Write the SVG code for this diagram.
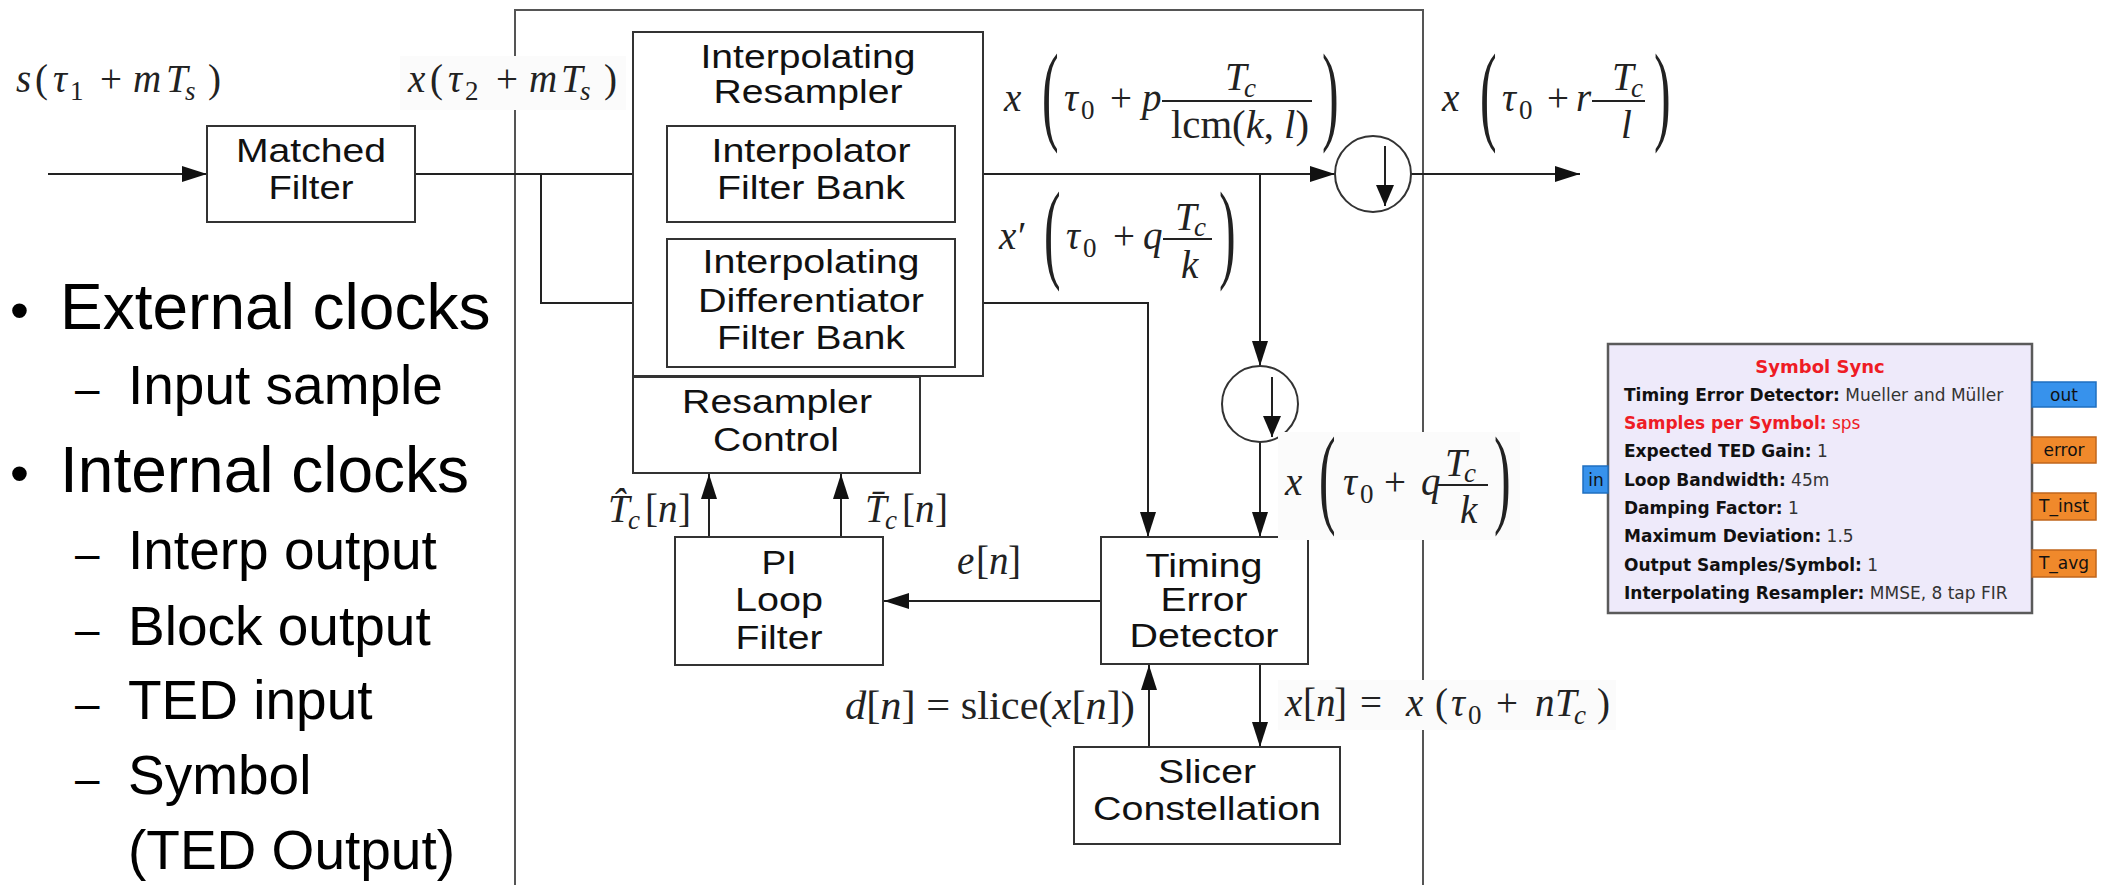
<svg xmlns="http://www.w3.org/2000/svg" width="2107" height="885" viewBox="0 0 2107 885">
<defs>
<marker id="ah" markerUnits="userSpaceOnUse" markerWidth="26" markerHeight="18" refX="25" refY="8" orient="auto"><path d="M0,0 L25,8 L0,16 z" fill="#111"/></marker>
<marker id="as" markerUnits="userSpaceOnUse" markerWidth="22" markerHeight="18" refX="21" refY="9" orient="auto"><path d="M0,0 L21,9 L0,18 z" fill="#111"/></marker>
</defs>
<style>
.box{fill:#fff;stroke:#333;stroke-width:2}
.ln{fill:none;stroke:#222;stroke-width:2}
.ar{fill:none;stroke:#222;stroke-width:2;marker-end:url(#ah)}
.frame{fill:none;stroke:#555;stroke-width:2}
.lbl{font-family:"Liberation Sans",Arial,sans-serif;font-size:34px;fill:#111;text-anchor:middle}
.m{font-family:"Liberation Serif","Times New Roman",serif;font-size:39px;fill:#222}
.i{font-style:italic}
.sb{font-size:27px}
.bp{font-family:"Liberation Serif","Times New Roman",serif;font-size:111px;fill:#222}
.bg{fill:#fbfbfb}
.list{font-family:"Liberation Sans",Arial,sans-serif;fill:#000}
.big{font-size:64px}
.sub{font-size:55px}
.dash{font-size:44px}
.gt{font-family:"DejaVu Sans",Verdana,sans-serif;font-size:17px;fill:#333}
.gb{font-weight:bold;fill:#111}
.red{fill:#ee1c25}
.pt{font-family:"DejaVu Sans",Verdana,sans-serif;font-size:17px;fill:#111;text-anchor:middle}
.pblue{fill:#3792ec;stroke:#1f6fc0;stroke-width:1.5}
.porg{fill:#f0892b;stroke:#c0661c;stroke-width:1.5}
</style>
<rect width="2107" height="885" fill="#fff"/>

<!-- left bullet list -->
<g id="bullets" class="list">
<text class="big" x="10" y="329" style="font-size:54px">•</text>
<text class="big" x="60" y="329">External clocks</text>
<text class="dash" x="75" y="404">–</text>
<text class="sub" x="128" y="404">Input sample</text>
<text class="big" x="10" y="492" style="font-size:54px">•</text>
<text class="big" x="60" y="492">Internal clocks</text>
<text class="dash" x="75" y="569">–</text>
<text class="sub" x="128" y="569">Interp output</text>
<text class="dash" x="75" y="645">–</text>
<text class="sub" x="128" y="645">Block output</text>
<text class="dash" x="75" y="719">–</text>
<text class="sub" x="128" y="719">TED input</text>
<text class="dash" x="75" y="794">–</text>
<text class="sub" x="128" y="794">Symbol</text>
<text class="sub" x="128" y="869">(TED Output)</text>
</g>

<!-- outer frame -->
<path id="frame" class="frame" d="M515,885 V10 H1423 V885"/>

<!-- connectors -->
<g id="connectors">
<line class="ar" x1="48" y1="174" x2="207" y2="174"/>
<line class="ar" x1="415" y1="174" x2="667" y2="174"/>
<polyline class="ar" points="541,174 541,303 667,303"/>
<line class="ar" x1="955" y1="174" x2="1335" y2="174"/>
<line class="ar" x1="1260" y1="174" x2="1260" y2="366"/>
<line class="ar" x1="1260" y1="442" x2="1260" y2="537"/>
<polyline class="ar" points="955,303 1148,303 1148,537"/>
<line class="ar" x1="1101" y1="601" x2="884" y2="601"/>
<line class="ar" x1="709" y1="537" x2="709" y2="474"/>
<line class="ar" x1="841" y1="537" x2="841" y2="474"/>
<line class="ar" x1="1149" y1="747" x2="1149" y2="665"/>
<line class="ar" x1="1260" y1="665" x2="1260" y2="747"/>
<line class="ar" x1="1411" y1="174" x2="1580" y2="174"/>
</g>

<!-- nodes -->
<g id="matched-filter">
<rect class="box" x="207" y="126" width="208" height="96"/>
<text class="lbl" x="311" y="162" textLength="150" lengthAdjust="spacingAndGlyphs">Matched</text>
<text class="lbl" x="311" y="199" textLength="85" lengthAdjust="spacingAndGlyphs">Filter</text>
</g>
<g id="interpolating-resampler">
<rect class="box" x="633" y="32" width="350" height="344"/>
<text class="lbl" x="808" y="68" textLength="215" lengthAdjust="spacingAndGlyphs">Interpolating</text>
<text class="lbl" x="808" y="103" textLength="189" lengthAdjust="spacingAndGlyphs">Resampler</text>
</g>
<g id="interpolator-filter-bank">
<rect class="box" x="667" y="126" width="288" height="96"/>
<text class="lbl" x="811" y="162" textLength="199" lengthAdjust="spacingAndGlyphs">Interpolator</text>
<text class="lbl" x="811" y="199" textLength="188" lengthAdjust="spacingAndGlyphs">Filter Bank</text>
</g>
<g id="differentiator-filter-bank">
<rect class="box" x="667" y="239" width="288" height="128"/>
<text class="lbl" x="811" y="273" textLength="217" lengthAdjust="spacingAndGlyphs">Interpolating</text>
<text class="lbl" x="811" y="312" textLength="226" lengthAdjust="spacingAndGlyphs">Differentiator</text>
<text class="lbl" x="811" y="349" textLength="188" lengthAdjust="spacingAndGlyphs">Filter Bank</text>
</g>
<g id="resampler-control">
<rect class="box" x="633" y="377" width="287" height="96"/>
<text class="lbl" x="777" y="413" textLength="190" lengthAdjust="spacingAndGlyphs">Resampler</text>
<text class="lbl" x="776" y="451" textLength="126" lengthAdjust="spacingAndGlyphs">Control</text>
</g>
<g id="pi-loop-filter">
<rect class="box" x="675" y="537" width="208" height="128"/>
<text class="lbl" x="779" y="574" textLength="35" lengthAdjust="spacingAndGlyphs">PI</text>
<text class="lbl" x="779" y="611" textLength="88" lengthAdjust="spacingAndGlyphs">Loop</text>
<text class="lbl" x="779" y="649" textLength="87" lengthAdjust="spacingAndGlyphs">Filter</text>
</g>
<g id="timing-error-detector">
<rect class="box" x="1101" y="537" width="207" height="127"/>
<text class="lbl" x="1204" y="577" textLength="117" lengthAdjust="spacingAndGlyphs">Timing</text>
<text class="lbl" x="1204" y="611" textLength="87" lengthAdjust="spacingAndGlyphs">Error</text>
<text class="lbl" x="1204" y="647" textLength="149" lengthAdjust="spacingAndGlyphs">Detector</text>
</g>
<g id="slicer-constellation">
<rect class="box" x="1074" y="747" width="266" height="97"/>
<text class="lbl" x="1207" y="783" textLength="98" lengthAdjust="spacingAndGlyphs">Slicer</text>
<text class="lbl" x="1207" y="820" textLength="228" lengthAdjust="spacingAndGlyphs">Constellation</text>
</g>
<g id="downsampler-1">
<circle class="box" cx="1373" cy="174" r="38"/>
<line class="ln" x1="1385" y1="146" x2="1385" y2="206" marker-end="url(#as)"/>
</g>
<g id="downsampler-2">
<circle class="box" cx="1260" cy="404" r="38"/>
<line class="ln" x1="1272" y1="377" x2="1272" y2="437" marker-end="url(#as)"/>
</g>

<!-- math labels -->
<g id="label-s">
<text class="m" y="92"><tspan x="16" class="i">s</tspan><tspan x="35">(</tspan><tspan x="53" class="i">τ</tspan><tspan x="70" y="100" class="sb">1</tspan><tspan x="100" y="92">+</tspan><tspan x="133" class="i">m</tspan><tspan x="166" class="i">T</tspan><tspan x="185" y="100" class="sb i">s</tspan><tspan x="208" y="92">)</tspan></text>
</g>
<g id="label-x-tau2">
<rect class="bg" x="400" y="56" width="226" height="54"/>
<text class="m" y="92"><tspan x="408" class="i">x</tspan><tspan x="430">(</tspan><tspan x="448" class="i">τ</tspan><tspan x="465" y="100" class="sb">2</tspan><tspan x="496" y="92">+</tspan><tspan x="529" class="i">m</tspan><tspan x="561" class="i">T</tspan><tspan x="580" y="100" class="sb i">s</tspan><tspan x="604" y="92">)</tspan></text>
</g>
<g id="label-x-p">
<text class="m" y="111"><tspan x="1004" class="i">x</tspan><tspan x="1064" class="i">τ</tspan><tspan x="1081" y="119" class="sb">0</tspan><tspan x="1110" y="111">+</tspan><tspan x="1142" class="i">p</tspan></text>
<text class="bp" transform="translate(1042,130) scale(0.45,1)">(</text>
<text class="m" y="90"><tspan x="1225" class="i">T</tspan><tspan x="1244" y="97" class="sb i">c</tspan></text>
<line class="ln" x1="1162" y1="101" x2="1312" y2="101"/>
<text class="m" x="1171" y="138" textLength="138" lengthAdjust="spacingAndGlyphs">lcm(<tspan class="i">k</tspan>, <tspan class="i">l</tspan>)</text>
<text class="bp" transform="translate(1322,130) scale(0.45,1)">)</text>
</g>
<g id="label-xprime">
<text class="m" y="249"><tspan x="999" class="i">x</tspan><tspan x="1018">′</tspan><tspan x="1066" class="i">τ</tspan><tspan x="1083" y="257" class="sb">0</tspan><tspan x="1113" y="249">+</tspan><tspan x="1143" class="i">q</tspan></text>
<text class="bp" transform="translate(1044,268) scale(0.45,1)">(</text>
<text class="m" y="230"><tspan x="1175" class="i">T</tspan><tspan x="1194" y="236" class="sb i">c</tspan></text>
<line class="ln" x1="1163" y1="239" x2="1212" y2="239"/>
<text class="m i" x="1181" y="278">k</text>
<text class="bp" transform="translate(1219,268) scale(0.45,1)">)</text>
</g>
<g id="label-x-r">
<text class="m" y="111"><tspan x="1442" class="i">x</tspan><tspan x="1502" class="i">τ</tspan><tspan x="1519" y="119" class="sb">0</tspan><tspan x="1547" y="111">+</tspan><tspan x="1576" class="i">r</tspan></text>
<text class="bp" transform="translate(1480,130) scale(0.45,1)">(</text>
<text class="m" y="90"><tspan x="1612" class="i">T</tspan><tspan x="1631" y="97" class="sb i">c</tspan></text>
<line class="ln" x1="1592" y1="101" x2="1645" y2="101"/>
<text class="m i" x="1621" y="138">l</text>
<text class="bp" transform="translate(1654,130) scale(0.45,1)">)</text>
</g>
<g id="label-x-q">
<rect class="bg" x="1278" y="432" width="242" height="108"/>
<text class="m" y="495"><tspan x="1285" class="i">x</tspan><tspan x="1343" class="i">τ</tspan><tspan x="1360" y="503" class="sb">0</tspan><tspan x="1384" y="495">+</tspan><tspan x="1421" class="i">q</tspan></text>
<text class="bp" transform="translate(1319,513) scale(0.45,1)">(</text>
<text class="m" y="476"><tspan x="1445" class="i">T</tspan><tspan x="1464" y="482" class="sb i">c</tspan></text>
<line class="ln" x1="1437" y1="485" x2="1488" y2="485"/>
<text class="m i" x="1460" y="523">k</text>
<text class="bp" transform="translate(1494,513) scale(0.45,1)">)</text>
</g>
<g id="label-tc-hat">
<text class="m" y="522"><tspan x="608" class="i">T̂</tspan><tspan x="628" y="529" class="sb i">c</tspan><tspan x="645" y="522">[</tspan><tspan x="658" class="i">n</tspan><tspan x="678">]</tspan></text>
</g>
<g id="label-tc-bar">
<text class="m" y="522"><tspan x="865" class="i">T̄</tspan><tspan x="885" y="529" class="sb i">c</tspan><tspan x="902" y="522">[</tspan><tspan x="915" class="i">n</tspan><tspan x="935">]</tspan></text>
</g>
<g id="label-e">
<text class="m" y="574"><tspan x="957" class="i">e</tspan><tspan x="976">[</tspan><tspan x="989" class="i">n</tspan><tspan x="1008">]</tspan></text>
</g>
<g id="label-d">
<text class="m" x="845" y="719" textLength="290" lengthAdjust="spacingAndGlyphs"><tspan class="i">d</tspan>[<tspan class="i">n</tspan>] = slice(<tspan class="i">x</tspan>[<tspan class="i">n</tspan>])</text>
</g>
<g id="label-xn">
<rect class="bg" x="1278" y="680" width="338" height="50"/>
<text class="m" y="716"><tspan x="1285" class="i">x</tspan><tspan x="1303">[</tspan><tspan x="1316" class="i">n</tspan><tspan x="1334">]</tspan><tspan x="1360">=</tspan><tspan x="1406" class="i">x</tspan><tspan x="1435">(</tspan><tspan x="1451" class="i">τ</tspan><tspan x="1468" y="724" class="sb">0</tspan><tspan x="1496" y="716">+</tspan><tspan x="1535" class="i">n</tspan><tspan x="1555" class="i">T</tspan><tspan x="1574" y="724" class="sb i">c</tspan><tspan x="1597" y="716">)</tspan></text>
</g>

<!-- GNU Radio block -->
<g id="symbol-sync">
<rect x="1608" y="344" width="424" height="269" fill="#eeeafa" stroke="#5a5a5a" stroke-width="2.5"/>
<text class="gt gb red" x="1820" y="373" text-anchor="middle" style="font-size:18px">Symbol Sync</text>
<text class="gt" x="1624" y="401"><tspan class="gb">Timing Error Detector:</tspan> Mueller and Müller</text>
<text class="gt red" x="1624" y="429"><tspan class="gb red">Samples per Symbol:</tspan> sps</text>
<text class="gt" x="1624" y="457"><tspan class="gb">Expected TED Gain:</tspan> 1</text>
<text class="gt" x="1624" y="486"><tspan class="gb">Loop Bandwidth:</tspan> 45m</text>
<text class="gt" x="1624" y="514"><tspan class="gb">Damping Factor:</tspan> 1</text>
<text class="gt" x="1624" y="542"><tspan class="gb">Maximum Deviation:</tspan> 1.5</text>
<text class="gt" x="1624" y="571"><tspan class="gb">Output Samples/Symbol:</tspan> 1</text>
<text class="gt" x="1624" y="599"><tspan class="gb">Interpolating Resampler:</tspan> MMSE, 8 tap FIR</text>
</g>
<g id="port-in">
<rect class="pblue" x="1583" y="466" width="25" height="27"/>
<text class="pt" x="1596" y="486">in</text>
</g>
<g id="port-out">
<rect class="pblue" x="2032" y="382" width="64" height="25"/>
<text class="pt" x="2064" y="401">out</text>
</g>
<g id="port-error">
<rect class="porg" x="2032" y="437" width="64" height="26"/>
<text class="pt" x="2064" y="456">error</text>
</g>
<g id="port-tinst">
<rect class="porg" x="2032" y="493" width="64" height="27"/>
<text class="pt" x="2064" y="512">T_inst</text>
</g>
<g id="port-tavg">
<rect class="porg" x="2032" y="550" width="64" height="27"/>
<text class="pt" x="2064" y="569">T_avg</text>
</g>
</svg>
